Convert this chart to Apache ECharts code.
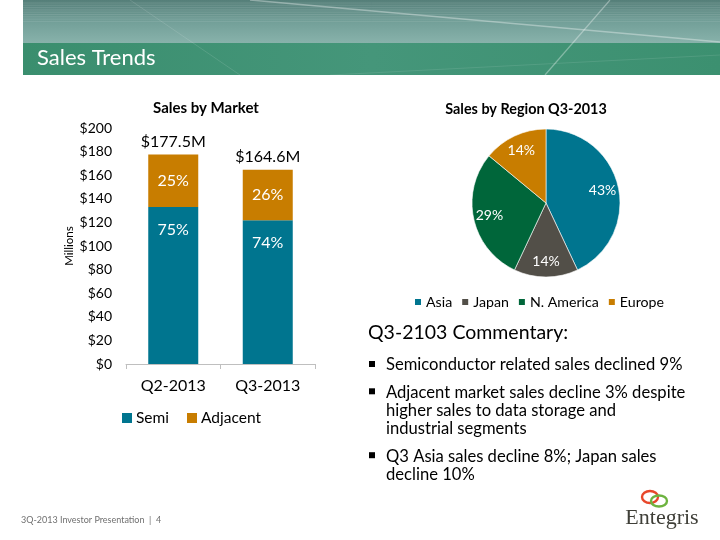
<!DOCTYPE html>
<html>
<head>
<meta charset="utf-8">
<script src="https://cdn.jsdelivr.net/npm/echarts@6/dist/echarts.min.js"></script>
<style>html,body{margin:0;padding:0;background:#fff;}#main{width:720px;height:540px;}</style>
</head>
<body>
<div id="main"></div>
<script>
// ---- data ----
var quarters = ['Q2-2013', 'Q3-2013'];
var semiValues = [133.1, 121.8];
var adjacentValues = [44.4, 42.8];
var totalValues = [177.5, 164.6];
var semiPct = ['75%', '74%'];
var adjacentPct = ['25%', '26%'];
var yTicks = [0, 20, 40, 60, 80, 100, 120, 140, 160, 180, 200];

var regions = ['Asia', 'Japan', 'N. America', 'Europe'];
var regionShare = [43, 14, 29, 14];

var commentary = [
  ['Semiconductor related sales declined 9%'],
  ['Adjacent market sales decline 3% despite', 'higher sales to data storage and', 'industrial segments'],
  ['Q3 Asia sales decline 8%; Japan sales', 'decline 10%']
];

// ---- styles ----
var FONT = 'Lato, "Open Sans", sans-serif';
var cTeal = '#00758F';
var cOrange = '#C87D00';
var cGray = '#524F48';
var cGreen = '#00663A';
var regionColors = [cTeal, cGray, cGreen, cOrange];

var chart = echarts.init(document.getElementById('main'), null, {renderer: 'canvas'});

// commentary graphics
var commentaryGraphics = [];
var y = 365;
commentary.forEach(function (lines, i) {
  commentaryGraphics.push({type: 'rect', shape: {x: 369, y: y - 4, width: 6, height: 6}, style: {fill: '#000'}});
  lines.forEach(function (ln, j) {
    commentaryGraphics.push({type: 'text', x: 386, y: y, style: {text: ln, font: '16.6px ' + FONT, fill: '#000', verticalAlign: 'middle'}});
    y += 18.3;
  });
  y += 9;
});

var headerLines = [];
for (var k = 0; k < 9; k++) {
  headerLines.push({type: 'line', shape: {x1: 23, y1: 3 + k * 2.3, x2: 720, y2: 3 + k * 2.3}, style: {stroke: 'rgba(255,255,255,0.10)', lineWidth: 1}});
}

var option = {
  animation: false,
  backgroundColor: '#fff',
  textStyle: {fontFamily: FONT},
  title: [
    {text: 'Sales by Market', left: 201, top: 96, textAlign: 'center', textStyle: {fontSize: 15, fontWeight: 'bold', color: '#000', fontFamily: FONT}},
    {text: 'Sales by Region Q3-2013', left: 521, top: 97, textAlign: 'center', textStyle: {fontSize: 14.4, fontWeight: 'bold', color: '#000', fontFamily: FONT}}
  ],
  legend: [
    {data: ['Semi', 'Adjacent'], left: 117, top: 405, itemWidth: 10, itemHeight: 10, itemGap: 18, icon: 'rect',
     textStyle: {fontSize: 15.5, color: '#000', fontFamily: FONT, padding: [0, 0, 0, -1]}},
    {data: regions, left: 408, top: 290, itemWidth: 8, itemHeight: 8, itemGap: 8, icon: 'rect',
     textStyle: {fontSize: 14.2, color: '#000', fontFamily: FONT, padding: [0, 0, 0, -1]}}
  ],
  grid: {left: 126, right: 405, top: 128, bottom: 176},
  xAxis: {
    type: 'category', data: quarters,
    axisLine: {lineStyle: {color: '#BFBFBF', width: 1}},
    axisTick: {show: true, length: 5, lineStyle: {color: '#BFBFBF'}},
    axisLabel: {fontSize: 16, color: '#000', margin: 14, fontFamily: FONT}
  },
  yAxis: {
    type: 'value', min: yTicks[0], max: yTicks[yTicks.length - 1], interval: 20,
    name: 'Millions', nameLocation: 'middle', nameGap: 47, nameRotate: 90,
    nameTextStyle: {fontSize: 11.5, color: '#000', fontFamily: FONT},
    axisLine: {show: false}, axisTick: {show: false}, splitLine: {show: false},
    axisLabel: {formatter: function (v) { return '$' + v; }, fontSize: 14, color: '#000', margin: 14, fontFamily: FONT}
  },
  series: [
    {
      name: 'Total', type: 'bar', data: totalValues, barWidth: 50, barGap: '-100%', z: 1,
      itemStyle: {color: 'rgba(0,0,0,0)'}, silent: true,
      label: {show: true, position: 'top', distance: 5, fontSize: 16, color: '#000', fontFamily: FONT,
        formatter: function (p) { return '$' + p.value.toFixed(1) + 'M'; }}
    },
    {
      name: 'Semi', type: 'bar', stack: 'm', data: semiValues, barWidth: 50, z: 2,
      itemStyle: {color: cTeal},
      label: {show: true, position: 'insideTop', distance: 15, fontSize: 16, color: '#fff', fontFamily: FONT,
        formatter: function (p) { return semiPct[p.dataIndex]; }}
    },
    {
      name: 'Adjacent', type: 'bar', stack: 'm', data: adjacentValues, barWidth: 50, z: 2,
      itemStyle: {color: cOrange},
      label: {show: true, position: 'inside', fontSize: 16, color: '#fff', fontFamily: FONT,
        formatter: function (p) { return adjacentPct[p.dataIndex]; }}
    },
    {
      name: 'Region', type: 'pie', center: [546, 203], radius: [0, 74], startAngle: 90, clockwise: true,
      data: regions.map(function (r, i) { return {name: r, value: regionShare[i], itemStyle: {color: regionColors[i]}}; }),
      itemStyle: {borderColor: '#ffffff', borderWidth: 0.6},
      label: {show: false}, labelLine: {show: false}, silent: true
    },
    {
      name: 'RegionLabels', type: 'pie', center: [546, 203], radius: [36, 74], startAngle: 90, clockwise: true,
      data: regions.map(function (r, i) { return {name: r, value: regionShare[i]}; }),
      itemStyle: {color: 'rgba(0,0,0,0)'}, silent: true, legendHoverLink: false,
      label: {show: true, position: 'inside', fontSize: 14, color: '#fff', fontFamily: FONT,
        formatter: function (p) { return regionShare[p.dataIndex] + '%'; }},
      labelLine: {show: false}
    }
  ],
  graphic: [
    {type: 'rect', shape: {x: 23, y: 0, width: 697, height: 43}, z: -1,
     style: {fill: new echarts.graphic.LinearGradient(0, 0, 0, 1, [{offset: 0, color: '#557F79'}, {offset: 0.5, color: '#729F98'}, {offset: 1, color: '#88B2AB'}])}},
    {type: 'rect', shape: {x: 23, y: 43, width: 697, height: 32}, z: -1,
     style: {fill: new echarts.graphic.LinearGradient(0, 0, 1, 0, [{offset: 0, color: '#3A8E6E'}, {offset: 0.5, color: '#45967A'}, {offset: 1, color: '#3C9070'}])}},
    {type: 'group', z: 0, children: headerLines.concat([
      {type: 'line', shape: {x1: 250, y1: 0, x2: 720, y2: 42}, style: {stroke: 'rgba(255,255,255,0.35)', lineWidth: 1.5}},
      {type: 'line', shape: {x1: 610, y1: 0, x2: 545, y2: 75}, style: {stroke: 'rgba(255,255,255,0.35)', lineWidth: 1.2}},
      {type: 'line', shape: {x1: 130, y1: 0, x2: 240, y2: 75}, style: {stroke: 'rgba(255,255,255,0.12)', lineWidth: 1}},
      {type: 'line', shape: {x1: 330, y1: 75, x2: 720, y2: 55}, style: {stroke: 'rgba(255,255,255,0.10)', lineWidth: 1}}
    ])},
    {type: 'text', x: 37, y: 58, z: 2, style: {text: 'Sales Trends', font: '22px ' + FONT, fill: '#fff', verticalAlign: 'middle'}},
    {type: 'text', x: 21, y: 520, style: {text: '3Q-2013 Investor Presentation  |  4', font: '9px ' + FONT, fill: '#707070', verticalAlign: 'middle'}},
    {type: 'text', x: 368, y: 333, style: {text: 'Q3-2103 Commentary:', font: '19.5px ' + FONT, fill: '#000', verticalAlign: 'middle'}},
    {type: 'group', children: commentaryGraphics},
    {type: 'ellipse', shape: {cx: 650, cy: 497, rx: 8, ry: 6}, style: {fill: 'none', stroke: '#E8472B', lineWidth: 2.4}},
    {type: 'ellipse', shape: {cx: 659, cy: 501, rx: 8, ry: 5.5}, style: {fill: 'none', stroke: '#6DB33F', lineWidth: 2.4}},
    {type: 'text', x: 662, y: 518, style: {text: 'Entegris', font: '22px "Liberation Serif", serif', fill: '#3F3F38', align: 'center', verticalAlign: 'middle'}}
  ]
};
chart.setOption(option);
</script>
</body>
</html>
